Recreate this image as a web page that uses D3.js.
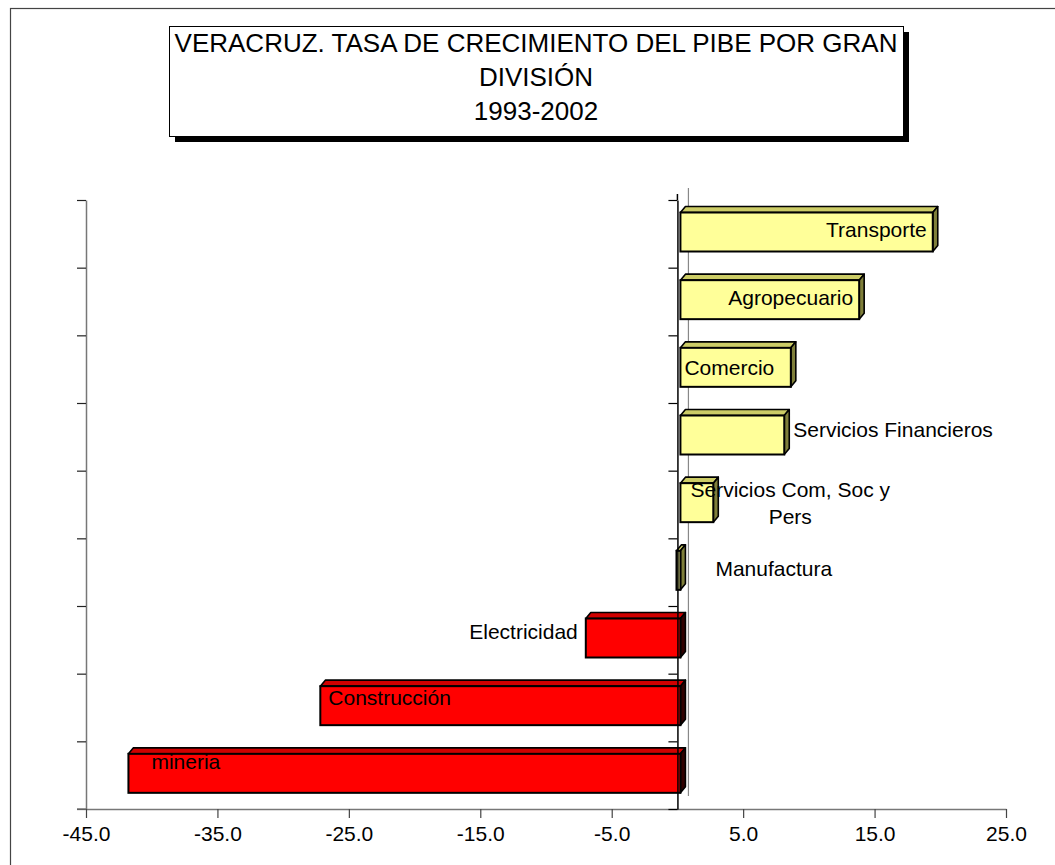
<!DOCTYPE html>
<html>
<head>
<meta charset="utf-8">
<script src="https://cdn.jsdelivr.net/npm/d3@7"></script>
<style>
  body { margin: 0; background: #fff; }
  svg text { font-family: "Liberation Sans", Arial, sans-serif; fill: #000; }
</style>
</head>
<body>
<div id="chart"></div>
<script>
// Data (growth rate %, 1993-2002)
var categories = ["Transporte", "Agropecuario", "Comercio", "Servicios Financieros",
    "Servicios Com, Soc y Pers", "Manufactura", "Electricidad", "Construcción", "mineria"];
var values = [19.2, 13.6, 8.4, 7.9, 2.5, -0.3, -7.2, -27.4, -42.0];
var barColors = ["yellow", "yellow", "yellow", "yellow", "yellow", "yellow", "red", "red", "red"];
var xTicks = [-45, -35, -25, -15, -5, 5, 15, 25];
var titleLines = ["VERACRUZ. TASA DE CRECIMIENTO DEL PIBE POR GRAN", "DIVISIÓN", "1993-2002"];

// label placement (styling only): which bar edge, offset, baseline offsets
var labelPlace = [
    { edge: "end", anchor: "end", dx: -6, dy: [37] },
    { edge: "end", anchor: "end", dx: -6, dy: [37] },
    { edge: "start", anchor: "start", dx: 4, dy: [40] },
    { edge: "end", anchor: "start", dx: 9, dy: [34] },
    { edge: "end", anchor: "middle", dx: 77, dy: [26, 53] },
    { edge: "zero", anchor: "start", dx: 35, dy: [38] },
    { edge: "start", anchor: "end", dx: -8, dy: [33] },
    { edge: "start", anchor: "start", dx: 8, dy: [31] },
    { edge: "start", anchor: "start", dx: 23, dy: [28] }
];
var labelLines = [["Transporte"], ["Agropecuario"], ["Comercio"], ["Servicios Financieros"],
    ["Servicios Com, Soc y", "Pers"], ["Manufactura"], ["Electricidad"], ["Construcción"], ["mineria"]];

var faces = {
    yellow: { front: "#FFFF99", top: "#CCCC66", side: "#7F7F3A" },
    red: { front: "#FF0000", top: "#D00000", side: "#300000" }
};

var svgWidth = 1055, svgHeight = 865;
var svg = d3.select("#chart").append("svg")
    .attr("width", svgWidth)
    .attr("height", svgHeight);

// outer frame
svg.append("rect")
    .attr("x", 10.5).attr("y", 8.5)
    .attr("width", 1060).attr("height", 870)
    .attr("fill", "none")
    .attr("stroke", "#444")
    .attr("stroke-width", 1.2);

// title box with shadow
var tb = { x: 169, y: 26, w: 734, h: 110 };
svg.append("rect")
    .attr("x", tb.x + 6).attr("y", tb.y + 6)
    .attr("width", tb.w).attr("height", tb.h)
    .attr("fill", "#000");
svg.append("rect")
    .attr("x", tb.x + 0.5).attr("y", tb.y + 0.5)
    .attr("width", tb.w).attr("height", tb.h)
    .attr("fill", "#fff")
    .attr("stroke", "#000")
    .attr("stroke-width", 1);
svg.selectAll(".title")
    .data(titleLines)
    .enter()
    .append("text")
    .attr("class", "title")
    .attr("x", tb.x + tb.w / 2)
    .attr("y", (d, i) => 52 + i * 34.2)
    .attr("text-anchor", "middle")
    .style("font-size", "26px")
    .text(d => d);

// scales
var plotTop = 200, plotBottom = 809;
var x = d3.scaleLinear().domain([-45, 25]).range([86, 1006]);
var y = d3.scaleBand().domain(categories).range([plotTop, plotBottom]).paddingInner(0).paddingOuter(0);
var yEdges = d3.scaleLinear().domain([0, categories.length]).range([plotTop, plotBottom]);

var depth = { dx: 5, dy: 6 };
var barShift = 3;   // bars sit slightly behind the front zero line
var barTop = 12.5, barH = 39;

// back wall zero line (grey)
svg.append("line")
    .attr("x1", x(0) + 11).attr("x2", x(0) + 11)
    .attr("y1", plotTop - 12).attr("y2", plotBottom - 13)
    .attr("stroke", "#888")
    .attr("stroke-width", 1.2);

// left value axis line + ticks
var leftAxis = d3.axisLeft(yEdges)
    .tickValues(d3.range(0, categories.length + 1))
    .tickFormat("")
    .tickSize(9)
    .tickSizeOuter(0);
var gLeft = svg.append("g")
    .attr("transform", `translate(${x(-45)},0)`)
    .call(leftAxis);
gLeft.select(".domain").attr("stroke", "#777").attr("stroke-width", 1.5);
gLeft.selectAll(".tick line").attr("stroke", "#222").attr("stroke-width", 1.2);

// bottom axis
var bottomAxis = d3.axisBottom(x)
    .tickValues(xTicks)
    .tickFormat(d => d.toFixed(1))
    .tickSize(9)
    .tickSizeOuter(0)
    .tickPadding(8);
var gBottom = svg.append("g")
    .attr("transform", `translate(0,${plotBottom})`)
    .call(bottomAxis);
gBottom.select(".domain").attr("stroke", "#777").attr("stroke-width", 1.5);
gBottom.selectAll(".tick line").attr("stroke", "#444").attr("stroke-width", 1.2);
gBottom.selectAll(".tick text")
    .style("font-size", "21px")
    .style("font-family", '"Liberation Sans", Arial, sans-serif')
    .attr("dy", "0.71em");
// extend x axis line to the left of the value axis
svg.append("line")
    .attr("x1", x(-45) - 9).attr("x2", x(-45))
    .attr("y1", plotBottom).attr("y2", plotBottom)
    .attr("stroke", "#777").attr("stroke-width", 1.5);

// bars in 3D
var bars = svg.selectAll(".bar")
    .data(categories)
    .enter()
    .append("g")
    .attr("class", "bar");

bars.each(function(c, i) {
    var g = d3.select(this);
    var v = values[i];
    var x0 = Math.min(x(0), x(v)) + barShift;
    var x1 = Math.max(x(0), x(v)) + barShift;
    var yt = y(c) + barTop;
    var yb = yt + barH;
    var col = faces[barColors[i]];
    var dx = depth.dx, dy = depth.dy;

    g.append("polygon")
        .attr("points", [[x0, yt], [x0 + dx, yt - dy], [x1 + dx, yt - dy], [x1, yt]].join(" "))
        .attr("fill", col.top)
        .attr("stroke", "#000")
        .attr("stroke-width", 1.6)
        .attr("stroke-linejoin", "round");
    g.append("polygon")
        .attr("points", [[x1, yt], [x1 + dx, yt - dy], [x1 + dx, yb - dy], [x1, yb]].join(" "))
        .attr("fill", col.side)
        .attr("stroke", "#000")
        .attr("stroke-width", 1.6)
        .attr("stroke-linejoin", "round");
    g.append("rect")
        .attr("x", x0).attr("y", yt)
        .attr("width", x1 - x0).attr("height", barH)
        .attr("fill", col.front)
        .attr("stroke", "#000")
        .attr("stroke-width", 2);
});

// front zero line (category axis) with ticks
var zeroAxis = d3.axisLeft(yEdges)
    .tickValues(d3.range(0, categories.length + 1))
    .tickFormat("")
    .tickSize(9)
    .tickSizeOuter(0);
var gZero = svg.append("g")
    .attr("transform", `translate(${x(0)},0)`)
    .call(zeroAxis);
gZero.select(".domain").attr("stroke", "#000").attr("stroke-width", 1.5);
gZero.selectAll(".tick line").attr("stroke", "#000").attr("stroke-width", 1.2);
svg.append("line")
    .attr("x1", x(0)).attr("x2", x(0))
    .attr("y1", plotTop - 6).attr("y2", plotTop)
    .attr("stroke", "#000").attr("stroke-width", 1.5);

// category labels
categories.forEach(function(c, i) {
    var p = labelPlace[i];
    var v = values[i];
    var ref;
    if (p.edge === "zero") ref = x(0) + barShift;
    else if (p.edge === "end") ref = (v >= 0 ? x(v) : x(0)) + barShift;
    else ref = (v >= 0 ? x(0) : x(v)) + barShift;
    labelLines[i].forEach(function(line, k) {
        svg.append("text")
            .attr("class", "barLabel")
            .attr("x", ref + p.dx)
            .attr("y", y(c) + p.dy[k])
            .attr("text-anchor", p.anchor)
            .style("font-size", "21px")
            .text(line);
    });
});
</script>
</body>
</html>
